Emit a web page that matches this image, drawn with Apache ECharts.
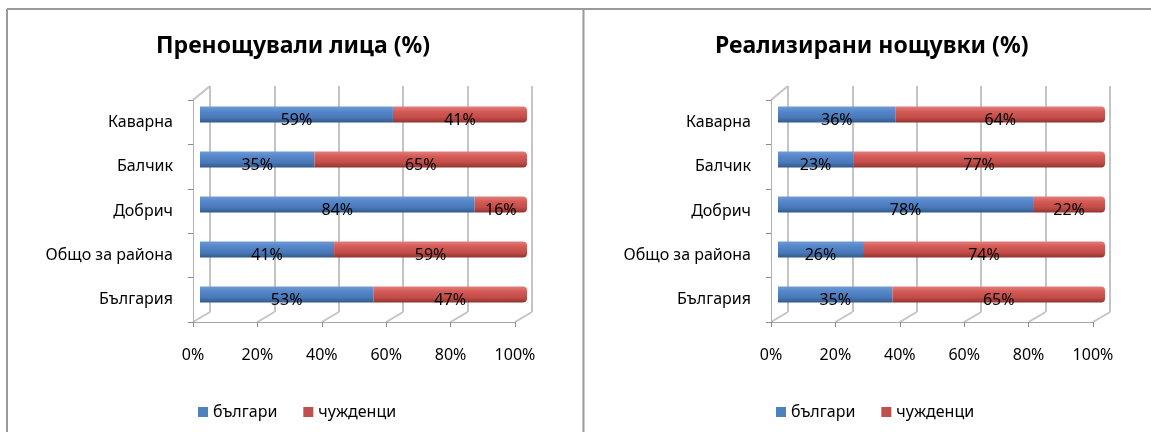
<!DOCTYPE html>
<html>
<head>
<meta charset="utf-8">
<script src="https://cdn.jsdelivr.net/npm/echarts@6/dist/echarts.min.js"></script>
<style>
  html, body { margin: 0; padding: 0; background: #fff; }
  #chart { width: 1151px; height: 432px; }
</style>
</head>
<body>
<div id="chart"></div>
<script>
// данни
const categories = ['Каварна', 'Балчик', 'Добрич', 'Общо за района', 'България'];
const guestsBg = [59, 35, 84, 41, 53];
const guestsForeign = [41, 65, 16, 59, 47];
const nightsBg = [36, 23, 78, 26, 35];
const nightsForeign = [64, 77, 22, 74, 65];
const xTicks = [0, 20, 40, 60, 80, 100];
const titles = ['Пренощували лица (%)', 'Реализирани нощувки (%)'];
const legendNames = ['българи', 'чужденци'];

const font = 'Noto Sans';
const panelShift = [0, 578];
const panels = [[guestsBg, guestsForeign], [nightsBg, nightsForeign]];

const blueFill = new echarts.graphic.LinearGradient(0, 0, 0, 1, [
    { offset: 0, color: '#6f9ad3' },
    { offset: 0.3, color: '#5687cb' },
    { offset: 0.7, color: '#4878b5' },
    { offset: 1, color: '#33598c' }
]);
const redFill = new echarts.graphic.LinearGradient(0, 0, 0, 1, [
    { offset: 0, color: '#e07f7c' },
    { offset: 0.3, color: '#d65b57' },
    { offset: 0.7, color: '#c04c48' },
    { offset: 1, color: '#923330' }
]);

var myChart = echarts.init(document.getElementById('chart'));

const grid = [], xAxis = [], yAxis = [], series = [], title = [], legend = [];

panelShift.forEach((dx, p) => {
    // предна ос (етикети и чертички)
    grid.push({ left: 193 + dx, width: 322, top: 100, height: 222 });
    // задна стена (мрежа)
    grid.push({ left: 210 + dx, width: 322, top: 86, height: 226 });
    // стълбове
    grid.push({ left: 200 + dx, width: 327, top: 92, height: 225 });

    xAxis.push({
        gridIndex: 3 * p, type: 'value', min: 0, max: 100, interval: 20,
        axisLine: { show: true, lineStyle: { color: '#a6a6a6', width: 1 } },
        axisTick: { show: true, length: 5, lineStyle: { color: '#8c8c8c' } },
        axisLabel: { formatter: '{value}%', margin: 25, fontFamily: font, fontSize: 16, color: '#000' },
        splitLine: { show: false }
    });
    xAxis.push({
        gridIndex: 3 * p + 1, type: 'value', min: 0, max: 100, interval: 20,
        axisLine: { show: false }, axisTick: { show: false }, axisLabel: { show: false },
        splitLine: { show: true, lineStyle: { color: '#c4c4c4', width: 2 } }
    });
    xAxis.push({
        gridIndex: 3 * p + 2, type: 'value', min: 0, max: 100, show: false
    });

    yAxis.push({
        gridIndex: 3 * p, type: 'category', data: categories, inverse: true,
        axisLine: { show: true, lineStyle: { color: '#b0b0b0' } },
        axisTick: { show: true, length: 5, lineStyle: { color: '#8c8c8c' } },
        axisLabel: { margin: 20, fontFamily: font, fontSize: 16, color: '#000' }
    });
    yAxis.push({ gridIndex: 3 * p + 1, type: 'category', data: categories, inverse: true, show: false });
    yAxis.push({ gridIndex: 3 * p + 2, type: 'category', data: categories, inverse: true, show: false });

    const [bg, foreign] = panels[p];
    const lbl = {
        show: true, position: 'inside', formatter: '{c}%', offset: [0, 6],
        fontFamily: font, fontSize: 16, color: '#000'
    };
    series.push({
        name: legendNames[0], type: 'bar', stack: 'p' + p,
        xAxisIndex: 3 * p + 2, yAxisIndex: 3 * p + 2,
        barWidth: 16, data: bg, label: lbl,
        itemStyle: { color: blueFill }
    });
    series.push({
        name: legendNames[1], type: 'bar', stack: 'p' + p,
        xAxisIndex: 3 * p + 2, yAxisIndex: 3 * p + 2,
        barWidth: 16, data: foreign, label: lbl,
        itemStyle: { color: redFill, borderRadius: [0, 4, 4, 0] }
    });

    title.push({
        text: titles[p], left: (p === 0 ? 151 : 710), top: 30,
        textStyle: { fontFamily: font, fontSize: 23, fontWeight: 'bold', color: '#000' }
    });
    legend.push({
        data: [
            { name: legendNames[0], itemStyle: { color: '#4f81bd' } },
            { name: legendNames[1], itemStyle: { color: '#c0504d' } }
        ],
        left: 193 + dx, top: 399, itemWidth: 10, itemHeight: 10, itemGap: 26,
        icon: 'rect', selectedMode: false,
        textStyle: { fontFamily: font, fontSize: 16, color: '#000' }
    });
});

const option = {
    animation: false,
    title, legend, grid, xAxis, yAxis, series
};
myChart.setOption(option);

// рамка + 3D линии на пода, изчислени от осите
const deco = [
    { type: 'line', shape: { x1: 7, y1: 9, x2: 1151, y2: 9 }, style: { stroke: '#9a9a9a', lineWidth: 2 } },
    { type: 'line', shape: { x1: 7, y1: 9, x2: 7, y2: 432 }, style: { stroke: '#9a9a9a', lineWidth: 2 } },
    { type: 'line', shape: { x1: 583.5, y1: 9, x2: 583.5, y2: 432 }, style: { stroke: '#9a9a9a', lineWidth: 2 } }
];
panelShift.forEach((dx, p) => {
    xTicks.forEach(v => {
        const fx = myChart.convertToPixel({ xAxisIndex: 3 * p }, v);
        const bx = myChart.convertToPixel({ xAxisIndex: 3 * p + 1 }, v);
        deco.push({
            type: 'line', silent: true,
            shape: { x1: fx, y1: 322, x2: bx, y2: 312 },
            style: { stroke: '#c4c4c4', lineWidth: 2 }
        });
    });
    const fx0 = myChart.convertToPixel({ xAxisIndex: 3 * p }, 0);
    const bx0 = myChart.convertToPixel({ xAxisIndex: 3 * p + 1 }, 0);
    deco.push({
        type: 'line', silent: true,
        shape: { x1: fx0, y1: 100, x2: bx0, y2: 86 },
        style: { stroke: '#c4c4c4', lineWidth: 2 }
    });
});
myChart.setOption({ graphic: deco });
</script>
</body>
</html>
